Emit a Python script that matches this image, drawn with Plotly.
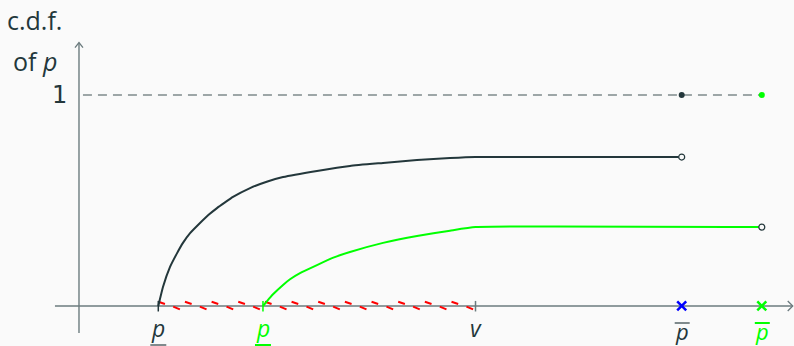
import plotly.graph_objects as go

# ---- data (x in price units, y = c.d.f.) ----
p_low = 1.0          # lower bound of support, dark
p_low_g = 2.32       # lower bound of support, green
v_val = 5.0          # v
p_bar = 7.60         # upper bound, dark (blue cross)
p_bar_g = 8.61       # upper bound, green

dark_x = [1.0, 1.059, 1.148, 1.232, 1.311, 1.401, 1.526, 1.631, 1.740, 1.841, 1.942, 2.157, 2.367, 2.573,
          3.001, 3.417, 3.834, 4.262, 4.678, 5.0, 7.60]
dark_y = [0.0, 0.090, 0.185, 0.247, 0.299, 0.345, 0.393, 0.431, 0.464, 0.491, 0.517, 0.559, 0.589, 0.611,
          0.640, 0.664, 0.678, 0.692, 0.701, 0.706, 0.706]

green_x = [2.32, 2.409, 2.450, 2.573, 2.661, 2.787, 3.001, 3.207, 3.417, 3.834, 4.262, 4.678, 5.0, 8.61]
green_y = [0.0, 0.040, 0.057, 0.100, 0.127, 0.156, 0.194, 0.229, 0.256, 0.299, 0.332, 0.357, 0.374, 0.374]

x_tick_labels = ["p", "p", "v", "p", "p"]
y_label = ["c.d.f.", "of p"]

# ---- style ----
BG = "#fafafa"
DARK = "#23373b"
AXIS = "#6b7b7e"
DASHC = "#7f8a8c"
GREEN = "#00ff00"
RED = "#ff0000"
BLUE = "#0000ff"
FONT = "Open Sans"

fig = go.Figure()

# axes
fig.add_trace(go.Scatter(x=[-0.303, 9.0], y=[0, 0], mode="lines",
                         line=dict(color=AXIS, width=1.4), hoverinfo="skip"))
fig.add_trace(go.Scatter(x=[0, 0], y=[-0.128, 1.248], mode="lines",
                         line=dict(color=AXIS, width=1.4), hoverinfo="skip"))

# dashed line at 1
fig.add_trace(go.Scatter(x=[0.05, p_bar_g], y=[1, 1], mode="lines",
                         line=dict(color=DASHC, width=1.3, dash="9px,6px"), hoverinfo="skip"))

# red hatch between p_low and v
n_h = 12
step = (v_val - p_low) / 11.9
hx, hy = [], []
for k in range(n_h):
    x0 = p_low + k * step
    hx += [x0, x0 + 0.25 * step, None, x0 + 0.56 * step, x0 + 0.81 * step, None]
    hy += [0.020, 0.0095, None, -0.003, -0.016, None]
fig.add_trace(go.Scatter(x=hx, y=hy, mode="lines", line=dict(color=RED, width=2),
                         connectgaps=False, hoverinfo="skip"))

# tick marks
for tx, tc in [(p_low, DARK), (p_low_g, GREEN), (v_val, AXIS)]:
    fig.add_trace(go.Scatter(x=[tx, tx], y=[-0.026, 0.024], mode="lines",
                             line=dict(color=tc, width=1.5), hoverinfo="skip"))

# curves
fig.add_trace(go.Scatter(x=dark_x, y=dark_y, mode="lines",
                         line=dict(color=DARK, width=2, shape="spline", smoothing=0.4), hoverinfo="skip"))
fig.add_trace(go.Scatter(x=green_x, y=green_y, mode="lines",
                         line=dict(color=GREEN, width=2, shape="spline", smoothing=0.4), hoverinfo="skip"))

# open circles at ends
fig.add_trace(go.Scatter(x=[dark_x[-1], green_x[-1]], y=[dark_y[-1], green_y[-1]], mode="markers",
                         marker=dict(symbol="circle", size=6, color=BG, line=dict(color=DARK, width=1.2)),
                         hoverinfo="skip"))
# filled dots at 1
fig.add_trace(go.Scatter(x=[p_bar, p_bar_g], y=[1, 1], mode="markers",
                         marker=dict(symbol="circle", size=6, color=[DARK, GREEN]), hoverinfo="skip"))
# crosses on axis
fig.add_trace(go.Scatter(x=[p_bar], y=[0], mode="markers",
                         marker=dict(symbol="x-thin", size=9, line=dict(color=BLUE, width=2.5)), hoverinfo="skip"))
fig.add_trace(go.Scatter(x=[p_bar_g], y=[0], mode="markers",
                         marker=dict(symbol="x-thin", size=9, line=dict(color=GREEN, width=2.5)), hoverinfo="skip"))

shapes = [
    dict(type="path", xref="x", yref="y", xsizemode="pixel", ysizemode="pixel",
         xanchor=9.0, yanchor=0, path="M -5,5 L 0,0 L -5,-5", line=dict(color=AXIS, width=1.3)),
    dict(type="path", xref="x", yref="y", xsizemode="pixel", ysizemode="pixel",
         xanchor=0, yanchor=1.248, path="M -4,-5 L 0,0 L 4,-5", line=dict(color=AXIS, width=1.3)),
    # underline / overline
    dict(type="line", xref="x", yref="y", xsizemode="pixel", ysizemode="pixel",
         xanchor=p_low, yanchor=0, x0=-8, x1=8, y0=-39, y1=-39, line=dict(color=DASHC, width=2)),
    dict(type="line", xref="x", yref="y", xsizemode="pixel", ysizemode="pixel",
         xanchor=p_low_g, yanchor=0, x0=-8, x1=8, y0=-39, y1=-39, line=dict(color=GREEN, width=2)),
    dict(type="line", xref="x", yref="y", xsizemode="pixel", ysizemode="pixel",
         xanchor=p_bar, yanchor=0, x0=-7, x1=8, y0=-17, y1=-17, line=dict(color=DASHC, width=2)),
    dict(type="line", xref="x", yref="y", xsizemode="pixel", ysizemode="pixel",
         xanchor=p_bar_g, yanchor=0, x0=-7, x1=8, y0=-17, y1=-17, line=dict(color=GREEN, width=2)),
]

ann = []
for xv, lab, col, ys, fs in [(p_low, x_tick_labels[0], DARK, -22, 23), (p_low_g, x_tick_labels[1], GREEN, -22, 23),
                             (v_val, x_tick_labels[2], DARK, -22, 23), (p_bar, x_tick_labels[3], DARK, -25, 22),
                             (p_bar_g, x_tick_labels[4], GREEN, -25, 22)]:
    ann.append(dict(x=xv, y=0, xref="x", yref="y", text="<i>%s</i>" % lab, showarrow=False,
                    xanchor="center", yanchor="middle", yshift=ys,
                    font=dict(family=FONT, size=fs, color=col)))
ann.append(dict(x=0, y=1, xref="x", yref="y", text="1", showarrow=False, xanchor="right",
                yanchor="middle", xshift=-10, font=dict(family="DejaVu Sans", size=24, color=DARK)))
ann.append(dict(x=5 / 794, y=1 - 20 / 346, xref="paper", yref="paper", text=y_label[0], showarrow=False,
                xanchor="left", yanchor="middle", font=dict(family=FONT, size=25, color=DARK)))
ann.append(dict(x=11 / 794, y=1 - 61 / 346, xref="paper", yref="paper", text="of <i>p</i>", showarrow=False,
                xanchor="left", yanchor="middle", font=dict(family=FONT, size=25, color=DARK)))

fig.update_layout(
    width=794, height=346, margin=dict(l=0, r=0, t=0, b=0),
    paper_bgcolor=BG, plot_bgcolor=BG, showlegend=False,
    xaxis=dict(range=[-0.996, 9.016], visible=False, fixedrange=True),
    yaxis=dict(range=[-0.1896, 1.4502], visible=False, fixedrange=True),
    shapes=shapes, annotations=ann,
)

fig.write_html("out.html", config={"displayModeBar": False, "staticPlot": True},
               post_script="document.body.style.margin='0';document.body.style.background='#fafafa';")
